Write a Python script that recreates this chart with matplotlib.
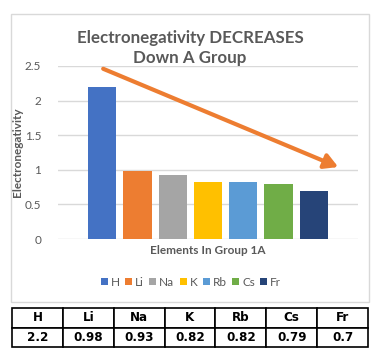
import numpy as np
import matplotlib.pyplot as plt
from matplotlib.patches import Rectangle

elements = ["H", "Li", "Na", "K", "Rb", "Cs", "Fr"]
values = [2.2, 0.98, 0.93, 0.82, 0.82, 0.79, 0.7]
colors = ["#4472C4", "#ED7D31", "#A5A5A5", "#FFC000", "#5B9BD5", "#70AD47", "#264478"]
yticks = [0, 0.5, 1, 1.5, 2, 2.5]
ytick_labels = ["0", "0.5", "1", "1.5", "2", "2.5"]

W, H = 383, 360
fig = plt.figure(figsize=(W / 100, H / 100), dpi=100)
plt.rcParams['font.family'] = ['Lato', 'DejaVu Sans']
gray = "#595959"

def box(x0, y0, x1, y1):
    # pixel box (top-left origin) -> figure fraction
    return [x0 / W, 1 - y1 / H, (x1 - x0) / W, (y1 - y0) / H]

# chart frame
fig.patches.append(Rectangle((11 / W, 1 - 302 / H), 358 / W, 288 / H,
                             transform=fig.transFigure, fill=False,
                             edgecolor="#D9D9D9", linewidth=1))

ax = fig.add_axes(box(58, 66, 358, 239))
x = np.arange(len(elements))
bars = ax.bar(x, values, width=0.8, color=colors)
ax.set_xlim(-1.25, 7.25)
ax.set_ylim(0, 2.5)
ax.set_yticks(yticks)
ax.set_yticklabels(ytick_labels, color=gray, fontsize=8.5)
ax.set_xticks([])
ax.grid(axis="y", color="#D9D9D9", linewidth=1)
ax.set_axisbelow(True)
for s in ax.spines.values():
    s.set_visible(False)
ax.tick_params(axis="y", length=0, pad=12)
ax.set_ylabel("Electronegativity", color=gray, fontsize=8.5, fontweight="bold", labelpad=1)
ax.set_xlabel("Elements In Group 1A", color=gray, fontsize=8.5, fontweight="bold", labelpad=4)

# trend arrow
ax.annotate("", xy=(6.69, 1.04), xytext=(0.03, 2.46),
            arrowprops=dict(arrowstyle="-|>,head_length=0.8,head_width=0.45",
                            color="#ED7D31", linewidth=3, shrinkA=0, shrinkB=0),
            annotation_clip=False)

fig.text(190 / W, 1 - 48 / H, "Electronegativity DECREASES\nDown A Group",
         ha="center", va="center", fontsize=12.2, fontweight="bold", color=gray,
         linespacing=1.3)

fig.legend(bars, elements, loc="center", bbox_to_anchor=(191 / W, 1 - 282 / H),
           ncol=7, frameon=False, fontsize=8.5, labelcolor=gray,
           handlelength=0.6, handleheight=0.6, handletextpad=0.25, columnspacing=0.45)

# data table
tax = fig.add_axes(box(12, 308, 368, 347))
tax.axis("off")
tbl = tax.table(cellText=[elements, [str(v) for v in values]], cellLoc="center",
                bbox=[0, 0, 1, 1])
tbl.auto_set_font_size(False)
for (r, c), cell in tbl.get_celld().items():
    cell.set_linewidth(1.2)
    cell.set_edgecolor("black")
    t = cell.get_text()
    t.set_fontsize(9.5)
    t.set_fontweight("bold")
    t.set_fontfamily(['DejaVu Sans'])
    t.set_fontstretch("condensed")

fig.savefig("out.png", dpi=100)
